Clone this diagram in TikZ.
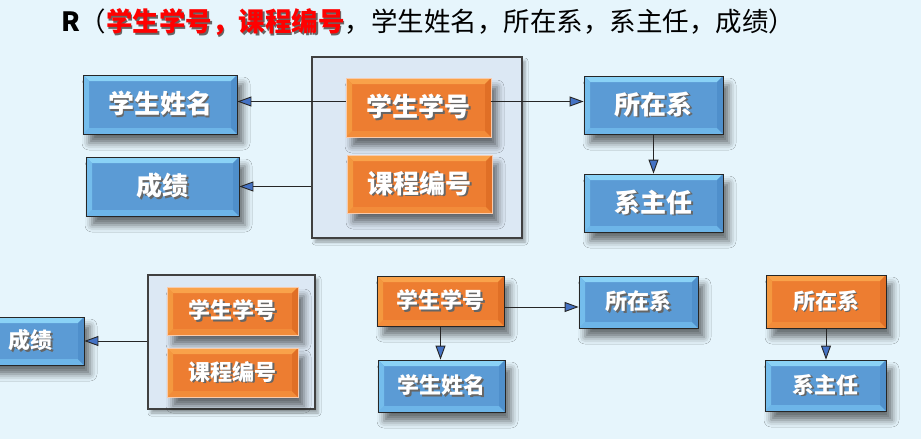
\documentclass[tikz,border=0pt]{standalone}
\usepackage{fontspec}
\setmainfont{Noto Sans CJK SC}
\usetikzlibrary{arrows.meta,shadows,shadows.blur}
\definecolor{bgc}{HTML}{E6F5FC}
\definecolor{contfill}{HTML}{DCE8F4}
\definecolor{bmain}{HTML}{5B9BD5}
\definecolor{btop}{HTML}{8AD2F6}
\definecolor{bbot}{HTML}{6DB5E8}
\definecolor{bleft}{HTML}{74BDEC}
\definecolor{bright}{HTML}{4F8FCB}
\definecolor{omain}{HTML}{ED7D31}
\definecolor{otop}{HTML}{F9A24A}
\definecolor{obot}{HTML}{F28C3A}
\definecolor{oleft}{HTML}{F4983F}
\definecolor{oright}{HTML}{E06F26}
\definecolor{oedge}{HTML}{F8CBAD}
\definecolor{arrblue}{HTML}{4472C4}
\definecolor{titred}{HTML}{FF0000}
\newcommand{\shd}[1]{\leavevmode\rlap{\kern1.5pt\raisebox{-1.5pt}{\textcolor{black!60}{#1}}}#1}
\tikzset{
  bevel/.style n args={4}{path picture={
    \path (path picture bounding box.south west) coordinate (ppa)
          (path picture bounding box.north east) coordinate (ppb);
    \fill[#1] (ppa|-ppb) -- (ppb) -- ([shift={(-6pt,-6pt)}]ppb) -- ([shift={(6pt,-6pt)}]ppa|-ppb) -- cycle;
    \fill[#2] (ppa) -- (ppb|-ppa) -- ([shift={(-6pt,6pt)}]ppb|-ppa) -- ([shift={(6pt,6pt)}]ppa) -- cycle;
    \fill[#3] (ppa) -- (ppa|-ppb) -- ([shift={(6pt,-6pt)}]ppa|-ppb) -- ([shift={(6pt,6pt)}]ppa) -- cycle;
    \fill[#4] (ppb|-ppa) -- (ppb) -- ([shift={(-6pt,-6pt)}]ppb) -- ([shift={(-6pt,6pt)}]ppb|-ppa) -- cycle;
  }},
  boxbase/.style={rectangle, inner sep=0pt, text=white,
    font=\bfseries\fontsize{26}{30}\selectfont,
    blur shadow={shadow xshift=6pt, shadow yshift=-9pt, shadow blur radius=7pt, shadow opacity=55}},
  bl/.style={boxbase, fill=bmain, draw=black!85, line width=0.8pt, bevel={btop}{bbot}{bleft}{bright}},
  orA/.style={boxbase, fill=omain, draw=oedge, line width=0.8pt, bevel={otop}{obot}{oleft}{oright}},
  orB/.style={boxbase, fill=omain, draw=black!85, line width=0.8pt, bevel={otop}{obot}{oleft}{oright}},
  smalltext/.style={font=\bfseries\fontsize{22}{26}\selectfont},
  cont/.style={rectangle, draw=black!75, line width=1.2pt, fill=contfill,
    blur shadow={shadow xshift=3pt, shadow yshift=-4pt, shadow blur radius=3pt, shadow opacity=35}},
  arr/.style={draw=black!85, line width=0.9pt, -{Triangle[length=14pt,width=10pt,fill=arrblue]}}
}
\begin{document}
\begin{tikzpicture}[x=1pt,y=-1pt]
\fill[bgc] (0,0) rectangle (921,439);
\useasboundingbox (0,0) rectangle (921,439);

% title
\node[anchor=west, inner sep=0pt, font=\fontsize{26.5}{30}\selectfont] (t) at (61,23)
 {{\bfseries R}（{\color{titred}\bfseries\shd{学生学号，课程编号}}，学生姓名，所在系，系主任，成绩）};

% top group
\node[cont, minimum width=210pt, minimum height=181pt] (c1) at (417,147.5) {};
\node[orA, minimum width=145pt, minimum height=59pt] (s1) at (418.5,107.5) {\shd{学生学号}};
\node[orA, minimum width=145pt, minimum height=58pt] (k1) at (419.5,184) {\shd{课程编号}};
\node[bl, minimum width=154pt, minimum height=59pt] (n1) at (160,104.5) {\shd{学生姓名}};
\node[bl, minimum width=153pt, minimum height=59pt] (g1) at (162.5,186.5) {\shd{成绩}};
\node[bl, minimum width=139pt, minimum height=58pt] (d1) at (653.5,105) {\shd{所在系}};
\node[bl, minimum width=139pt, minimum height=58pt] (z1) at (653.5,203) {\shd{系主任}};

\draw[arr] ([yshift=6pt]s1.west) -- ([yshift=6pt]s1.west -| n1.east);
\draw[arr] ([yshift=6pt]s1.east) -- ([yshift=6pt]s1.east -| d1.west);
\draw[arr] (c1.west |- g1.east) -- (g1.east);
\draw[arr] (d1.south) -- (z1.north);

% bottom left group
\node[cont, minimum width=167pt, minimum height=134pt] (c2) at (231.5,342) {};
\node[orA, smalltext, minimum width=131pt, minimum height=48pt] (s2) at (232.5,311) {\shd{学生学号}};
\node[orA, smalltext, minimum width=131pt, minimum height=49pt] (k2) at (232.5,372.5) {\shd{课程编号}};
\node[bl, smalltext, minimum width=106pt, minimum height=48pt] (g2) at (31,341) {\shd{成绩}};
\draw[arr] (c2.west |- g2.east) -- (g2.east);

% bottom middle group
\node[orB, smalltext, minimum width=127pt, minimum height=50pt] (s3) at (440.5,301) {\shd{学生学号}};
\node[bl, smalltext, minimum width=127pt, minimum height=52pt] (n3) at (441.5,386) {\shd{学生姓名}};
\node[bl, smalltext, minimum width=119pt, minimum height=52pt] (d3) at (638.5,302) {\shd{所在系}};
\draw[arr] ([yshift=-6pt]s3.east) -- ([yshift=-6pt]s3.east -| d3.west);
\draw[arr] (s3.south) -- (s3.south |- n3.north);

% bottom right group
\node[orB, smalltext, minimum width=120pt, minimum height=53pt] (d4) at (826,301.5) {\shd{所在系}};
\node[bl, smalltext, minimum width=121pt, minimum height=51pt] (z4) at (825.5,385.5) {\shd{系主任}};
\draw[arr] (d4.south) -- (d4.south |- z4.north);
\end{tikzpicture}
\end{document}
